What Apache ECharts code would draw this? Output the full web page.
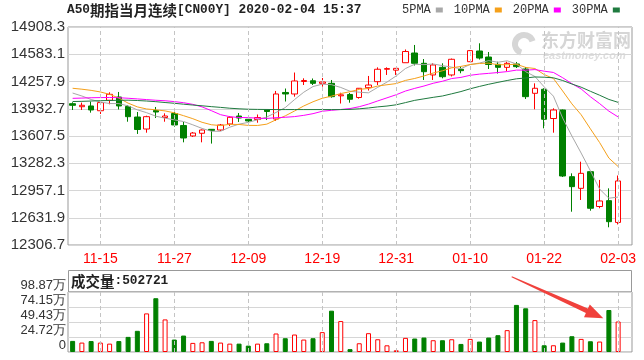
<!DOCTYPE html>
<html><head><meta charset="utf-8">
<script src="https://cdn.jsdelivr.net/npm/echarts@6/dist/echarts.min.js"></script>
<style>html,body{margin:0;padding:0;background:#fff}#c{width:644px;height:360px}</style>
</head><body><div id="c"></div>
<script>
const dates = ['11-12','11-13','11-14','11-15','11-18','11-19','11-20','11-21','11-22','11-25','11-26','11-27','11-28','11-29','12-02','12-03','12-04','12-05','12-06','12-09','12-10','12-11','12-12','12-13','12-16','12-17','12-18','12-19','12-20','12-23','12-24','12-25','12-26','12-27','12-30','12-31','01-01','01-02','01-03','01-06','01-07','01-08','01-09','01-10','01-13','01-14','01-15','01-16','01-17','01-20','01-21','01-22','01-23','01-24','01-27','01-28','01-29','01-30','01-31','02-03'];
const opens = [13993,13957,13966,13909,14034,14073,13960,13834,13691,13912,13828,13876,13733,13608,13640,13687,13679,13751,13846,13807,13804,13918,13810,14127,14109,14258,14267,14236,14236,14087,14103,14067,14184,14256,14404,14393,14482,14598,14475,14336,14427,14336,14404,14494,14622,14550,14463,14427,14467,14407,14117,14165,13816,13918,13122,12983,13182,12766,12836,12576];
const closes = [13974,13974,13918,14006,14105,13966,13838,13685,13838,13894,13846,13739,13584,13643,13679,13673,13739,13831,13822,13787,13828,13900,14109,14109,14264,14270,14236,14252,14077,14099,14046,14177,14216,14404,14412,14415,14616,14475,14375,14455,14315,14523,14387,14626,14538,14461,14427,14475,14435,14077,14177,13807,13918,13130,13003,13162,12745,12832,12585,13071];
const lows = [13918,13918,13886,13870,13986,13924,13778,13632,13647,13822,13778,13719,13532,13596,13532,13517,13667,13727,13775,13727,13766,13798,13787,14019,14077,14216,14216,14196,14065,13995,14005,14053,14150,14216,14336,14336,14482,14449,14276,14276,14296,14318,14356,14491,14520,14407,14353,14383,14419,14049,13926,13699,13647,13118,12704,12844,12716,12745,12518,12552];
const highs = [14010,14006,14017,14013,14129,14133,13977,13894,13850,13954,13878,13918,13775,13655,13685,13691,13751,13846,13882,13827,13864,13924,14145,14174,14365,14296,14294,14300,14276,14124,14121,14180,14324,14427,14427,14417,14640,14694,14526,14475,14475,14532,14435,14634,14714,14610,14494,14494,14491,14431,14236,14177,13938,13924,13162,13301,13190,13083,12983,13136];
const volumes = [183000,155000,180000,155000,138000,180000,249000,349000,636000,886000,537000,205000,271000,150000,160000,183000,155000,138000,138000,105000,138000,144000,305000,227000,288000,205000,227000,327000,681000,510000,47000,144000,310000,210000,110000,28000,233000,222000,238000,194000,194000,210000,133000,216000,172000,238000,277000,360000,776000,720000,526000,111000,111000,155000,260000,216000,177000,172000,692000,502721];
const ma5 = [14120,14085,14043,14013,13995,13994,13967,13920,13886,13844,13820,13800,13780,13741,13698,13664,13664,13713,13749,13770,13801,13834,13889,13947,14042,14130,14198,14226,14220,14187,14142,14130,14123,14188,14251,14325,14413,14464,14459,14467,14447,14429,14411,14461,14478,14507,14488,14505,14467,14375,14318,14194,14083,13822,13607,13404,13192,12974,12865,12879];
const ma10 = [14177,14166,14152,14133,14105,14060,14000,13955,13930,13920,13907,13884,13850,13814,13771,13742,13732,13747,13745,13734,13733,13749,13801,13848,13906,13966,14016,14058,14083,14114,14136,14164,14175,14204,14219,14233,14271,14294,14324,14359,14386,14421,14438,14460,14473,14477,14458,14458,14464,14426,14413,14341,14294,14145,13991,13861,13693,13529,13344,13243];
const ma20 = [14057,14060,14064,14066,14067,14064,14058,14050,14042,14034,14028,14018,14005,13985,13955,13910,13862,13838,13828,13827,13820,13817,13826,13831,13839,13854,13874,13903,13914,13924,13935,13957,13988,14026,14063,14100,14144,14176,14204,14237,14261,14293,14307,14332,14346,14355,14365,14376,14394,14393,14400,14381,14366,14303,14232,14169,14076,13994,13904,13835];
const ma30 = [14019,14021,14025,14029,14031,14034,14035,14031,14025,14017,14007,13998,13987,13977,13968,13958,13949,13939,13932,13927,13925,13924,13923,13923,13923,13923,13923,13923,13923,13923,13925,13932,13942,13955,13965,13980,14006,14033,14051,14069,14085,14111,14138,14171,14199,14225,14248,14270,14290,14300,14312,14309,14302,14270,14228,14190,14141,14094,14044,14009];
const priceTicks = ['12306.7','12631.9','12957.1','13282.3','13607.5','13932.7','14257.9','14583.1','14908.3'];
const volTicks = ['0','24.72万','49.43万','74.15万','98.87万'];
const labelDates = ['11-15','11-27','12-09','12-19','12-31','01-10','01-22','02-03'];
const maNames = ['5PMA','10PMA','20PMA','30PMA'];
const lastVolume = 502721;

const UP = '#ff0000', DOWN = '#008000';
const cats = dates.concat(['']);
const kdata = dates.map((d, i) => [opens[i], closes[i], lows[i], highs[i]]);
const vdata = volumes.map((v, i) => ({
  value: v,
  itemStyle: closes[i] >= opens[i]
    ? { color: '#ffffff', borderColor: UP, borderWidth: 1 }
    : { color: DOWN, borderColor: DOWN, borderWidth: 1 }
}));
const vlines = {
  silent: true, symbol: ['none', 'none'], label: { show: false },
  lineStyle: { color: '#c4c4c4', type: [4, 3], width: 1 },
  emphasis: { disabled: true },
  data: labelDates.map(d => ({ xAxis: d })), animation: false
};
const richT = {
  a: { fontFamily: 'Liberation Mono', fontSize: 12.8, color: '#222' },
  b: { fontFamily: 'Noto Sans CJK SC', fontSize: 14.5, color: '#222' }
};
const maColors = ['#a8a8a8', '#f5a01a', '#ff00ff', '#1f7a3f'];
const maData = [ma5, ma10, ma20, ma30];

const chart = echarts.init(document.getElementById('c'));
chart.setOption({
  animation: false,
  backgroundColor: '#ffffff',
  title: [
    { text: '{a|A50}{b|期指当月连续}{a|[CN00Y] 2020-02-04 15:37}', left: 67, top: 3, padding: 0, textStyle: { rich: richT } },
    { text: '{b|成交量}{a|:' + lastVolume + '}', left: 71, top: 274, padding: 0, textStyle: { rich: richT } }
  ],
  legend: {
    data: maNames, left: 402, top: 4, align: 'right', icon: 'rect', itemWidth: 7, itemHeight: 5, itemGap: 11,
    selectedMode: false, padding: 0,
    textStyle: { fontFamily: 'Liberation Mono', fontSize: 12, color: '#333' }
  },
  grid: [
    { left: 68, right: 12, top: 27, height: 218, show: true, borderColor: '#999', borderWidth: 1 },
    { left: 68, right: 12, top: 292, height: 60, show: true, borderColor: '#999', borderWidth: 1 }
  ],
  xAxis: [
    { type: 'category', gridIndex: 0, data: cats, boundaryGap: true,
      axisLine: { show: false }, axisTick: { show: false }, splitLine: { show: false },
      axisLabel: { interval: (i, v) => labelDates.includes(v), color: '#ff0000', fontSize: 14, fontFamily: 'Liberation Sans', margin: 7 } },
    { type: 'category', gridIndex: 1, data: cats, boundaryGap: true,
      axisLine: { show: false }, axisTick: { show: false }, splitLine: { show: false }, axisLabel: { show: false } }
  ],
  yAxis: [
    { gridIndex: 0, type: 'value', min: 12306.7, max: 14908.3, show: false, splitLine: { show: false } },
    { gridIndex: 0, type: 'value', position: 'left', min: 0, max: 8, interval: 1,
      axisLine: { show: false }, axisTick: { show: false },
      splitLine: { lineStyle: { color: '#d6d6d6', width: 1 } },
      axisLabel: { formatter: v => priceTicks[Math.round(v)], color: '#333', fontSize: 15, fontFamily: 'Liberation Sans', margin: 3 } },
    { gridIndex: 1, type: 'value', min: 0, max: 988700, interval: 247175,
      axisLine: { show: false }, axisTick: { show: false },
      splitLine: { lineStyle: { color: '#d6d6d6', width: 1 } },
      axisLabel: { formatter: v => volTicks[Math.round(v / 247175)], color: '#333', fontSize: 13, fontFamily: 'Liberation Sans', margin: 2, verticalAlign: 'bottom' } }
  ],
  graphic: [
    { type: 'rect', shape: { x: 68.5, y: 270.5, width: 563, height: 21.5 }, style: { fill: '#fff', stroke: '#999', lineWidth: 1 }, z: -1, silent: true },
    { type: 'arc', shape: { cx: 524, cy: 44, r: 9, startAngle: Math.PI * 0.6, endAngle: Math.PI * 1.9 }, style: { stroke: '#d6d6d6', lineWidth: 6, fill: null }, z: -1, silent: true },
    { type: 'text', x: 541, y: 31, style: { text: '东方财富网', font: 'bold 18px "Noto Sans CJK SC"', fill: '#d6d6d6' }, z: -1, silent: true },
    { type: 'text', x: 543, y: 50, style: { text: 'eastmoney.com', font: 'bold italic 11px "Liberation Sans"', fill: '#dedede' }, z: -1, silent: true },
    { type: 'polygon', shape: { points: [[511.9, 276.2], [587.9, 308.6], [589.8, 304.5], [603.3, 318.3], [584.0, 317.2], [585.9, 313.1], [511.5, 277.2]] },
      style: { fill: '#f0413c' }, z: 10, silent: true }
  ],
  series: [
    { type: 'line', xAxisIndex: 0, yAxisIndex: 0, data: [], markLine: vlines, z: 1, silent: true },
    { type: 'line', xAxisIndex: 1, yAxisIndex: 2, data: [], markLine: vlines, z: 1, silent: true },
    { type: 'candlestick', name: 'K', xAxisIndex: 0, yAxisIndex: 0, data: kdata, barWidth: 6,
      itemStyle: { color: '#ffffff', color0: DOWN, borderColor: UP, borderColor0: DOWN, borderWidth: 1 }, z: 3 },
    ...maNames.map((n, k) => ({
      type: 'line', name: n, xAxisIndex: 0, yAxisIndex: 0, data: maData[k], symbol: 'none', showSymbol: false,
      lineStyle: { width: 1, color: maColors[k] }, itemStyle: { color: maColors[k] }, z: 4, silent: true
    })),
    { type: 'bar', name: 'VOL', xAxisIndex: 1, yAxisIndex: 2, data: vdata, barWidth: 5, z: 3 }
  ]
});
</script>
</body></html>
